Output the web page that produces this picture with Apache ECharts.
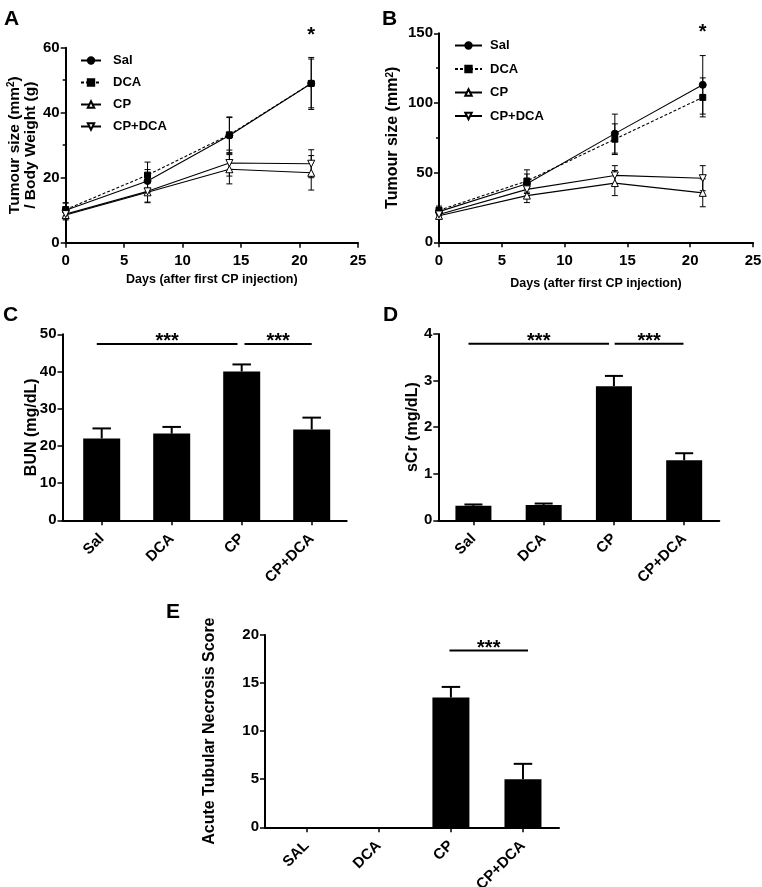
<!DOCTYPE html>
<html><head><meta charset="utf-8">
<script src="https://cdn.jsdelivr.net/npm/echarts/dist/echarts.min.js"></script>
<style>html,body{margin:0;padding:0;background:#fff}#c{width:762px;height:887px}</style>
</head><body><div id="c"></div>
<script>
// ---------- data ----------
const days = [0, 7, 14, 21];
const groups = ['Sal', 'DCA', 'CP', 'CP+DCA'];
// Panel A: tumour size / body weight
const aSal = [10, 19, 33, 49],      aSalErr = [2.3, 3.5, 5.5, 7.5];
const aDca = [10.2, 20.8, 33.2, 49], aDcaErr = [2, 4, 5.5, 8];
const aCp = [8.5, 15.5, 22.6, 21.5], aCpErr = [1.5, 3, 4.5, 5.3];
const aCpDca = [8.8, 15.8, 24.5, 24.3], aCpDcaErr = [1.5, 3.5, 4, 4.3];
// Panel B: tumour size
const bSal = [22, 42, 78, 113],     bSalErr = [3, 7, 14, 21];
const bDca = [23, 44, 74, 104],     bDcaErr = [3, 8, 11, 14];
const bCp = [19, 33.5, 42.5, 35.5], bCpErr = [2.5, 5, 9, 10];
const bCpDca = [20, 38, 48, 46],    bCpDcaErr = [2.5, 5, 7, 9];
// Panels C, D, E
const barCats = ['Sal', 'DCA', 'CP', 'CP+DCA'];
const eCats = ['SAL', 'DCA', 'CP', 'CP+DCA'];
const bun = [22, 23.3, 40, 24.4],   bunErr = [2.7, 1.8, 1.9, 3.2];
const scr = [0.31, 0.33, 2.88, 1.29], scrErr = [0.03, 0.03, 0.22, 0.15];
const atn = [0, 0, 13.5, 5.0],      atnErr = [0, 0, 1.1, 1.6];
// significance bars [from, to, level]
const sigC = [[-0.07, 1.94, 47.4], [2.04, 3.0, 47.4]];
const sigD = [[-0.07, 1.93, 3.79], [2.01, 2.99, 3.79]];
const sigE = [[1.98, 3.07, 18.4]];
const starA = [[21, 63.9]];
const starB = [[21, 150.5]];

// ---------- helpers ----------
const FONT = 'Liberation Sans';
const txt = (s) => ({ color: '#000', fontFamily: FONT, fontWeight: 'bold', fontSize: s });

function errRender(capHalf, upperOnly, lw) {
  return function (params, api) {
    const x = api.value(0), y = api.value(1), e = api.value(2);
    if (!e) return;
    const t = api.coord([x, y + e]);
    const b = api.coord([x, upperOnly ? y : y - e]);
    const st = { stroke: '#000', lineWidth: lw };
    const ch = [
      { type: 'line', shape: { x1: t[0], y1: t[1], x2: b[0], y2: b[1] }, style: st },
      { type: 'line', shape: { x1: t[0] - capHalf, y1: t[1], x2: t[0] + capHalf, y2: t[1] }, style: st }
    ];
    if (!upperOnly) ch.push({ type: 'line', shape: { x1: b[0] - capHalf, y1: b[1], x2: b[0] + capHalf, y2: b[1] }, style: st });
    return { type: 'group', children: ch };
  };
}
function sigRender(params, api) {
  const p1 = api.coord([api.value(0), api.value(2)]);
  const p2 = api.coord([api.value(1), api.value(2)]);
  return { type: 'group', children: [
    { type: 'line', shape: { x1: p1[0], y1: p1[1], x2: p2[0], y2: p2[1] }, style: { stroke: '#000', lineWidth: 2 } },
    { type: 'text', x: (p1[0] + p2[0]) / 2, y: p1[1] + 8, style: { text: '***', fill: '#000', font: 'bold 20px ' + FONT, align: 'center', verticalAlign: 'bottom' } }
  ] };
}
function starRender(params, api) {
  const p = api.coord([api.value(0), api.value(1)]);
  return { type: 'text', x: p[0], y: p[1], style: { text: '*', fill: '#000', font: 'bold 20px ' + FONT, align: 'center', verticalAlign: 'middle' } };
}
const zip = (xs, ys) => xs.map((x, i) => [x, ys[i]]);
const zip3 = (xs, ys, es) => xs.map((x, i) => [x, ys[i], es[i]]);

const axisLine = { show: true, onZero: false, lineStyle: { color: '#000', width: 2 } };
const axisTick = { show: true, length: 5, lineStyle: { color: '#000', width: 1.5 } };

const styles = {
  'Sal':    { symbol: 'circle', rot: 0, fill: '#000', dash: 'solid' },
  'DCA':    { symbol: 'rect', rot: 0, fill: '#000', dash: [3, 2] },
  'CP':     { symbol: 'triangle', rot: 0, fill: '#fff', dash: 'solid' },
  'CP+DCA': { symbol: 'triangle', rot: 180, fill: '#fff', dash: 'solid' }
};

const series = [];
function addLinePanel(idx, vals, errs) {
  groups.forEach((g, k) => {
    series.push({
      type: 'custom', xAxisIndex: idx, yAxisIndex: idx, renderItem: errRender(3, false, 1),
      data: zip3(days, vals[k], errs[k]), z: 2, silent: true
    });
  });
  groups.forEach((g, k) => {
    const s = styles[g];
    series.push({
      type: 'line', name: g, xAxisIndex: idx, yAxisIndex: idx, data: zip(days, vals[k]),
      symbol: s.symbol, symbolRotate: s.rot, symbolSize: s.symbol === 'rect' ? 6 : 7,
      lineStyle: { color: '#000', width: 1.1, type: s.dash },
      itemStyle: { color: s.fill, borderColor: '#000', borderWidth: 1 },
      z: 3, silent: true, animation: false
    });
  });
}
addLinePanel(0, [aSal, aDca, aCp, aCpDca], [aSalErr, aDcaErr, aCpErr, aCpDcaErr]);
addLinePanel(1, [bSal, bDca, bCp, bCpDca], [bSalErr, bDcaErr, bCpErr, bCpDcaErr]);
series.push({ type: 'custom', xAxisIndex: 0, yAxisIndex: 0, renderItem: starRender, data: starA, silent: true });
series.push({ type: 'custom', xAxisIndex: 1, yAxisIndex: 1, renderItem: starRender, data: starB, silent: true });

const pos = [0, 1, 2, 3];
function addBarPanel(idx, vals, errs, sig, bw) {
  series.push({ type: 'bar', xAxisIndex: idx, yAxisIndex: idx, data: zip(pos, vals), barWidth: bw,
    itemStyle: { color: '#000' }, silent: true, animation: false });
  series.push({ type: 'custom', xAxisIndex: idx, yAxisIndex: idx, renderItem: errRender(bw / 4, true, 2),
    data: zip3(pos, vals, errs), z: 1, silent: true });
  series.push({ type: 'custom', xAxisIndex: idx, yAxisIndex: idx, renderItem: sigRender, data: sig, silent: true });
}
addBarPanel(2, bun, bunErr, sigC, 37);
addBarPanel(3, scr, scrErr, sigD, 36);
addBarPanel(4, atn, atnErr, sigE, 37);

function lineX(nameGap) {
  return { type: 'value', min: 0, max: 25, interval: 5, axisLine, axisTick, splitLine: { show: false },
    axisLabel: Object.assign(txt(15), { margin: 11 }),
    name: 'Days (after first CP injection)', nameLocation: 'middle', nameGap, nameMoveOverlap: false, nameTextStyle: txt(12.5) };
}
function barX(min, cats) {
  return { type: 'value', min, max: 3.5, axisLine, splitLine: { show: false },
    axisTick: Object.assign({ customValues: pos }, axisTick),
    axisLabel: Object.assign(txt(15), { customValues: pos, rotate: 45, margin: 16, formatter: (v) => cats[Math.round(v)] }) };
}
const supRich = { sup: { fontSize: 10, fontWeight: 'bold', fontFamily: FONT, color: '#000', verticalAlign: 'top', lineHeight: 10 } };
function yAx(max, interval, name, nameGap, minor, nameSize, lh) {
  return { type: 'value', min: 0, max, interval, axisLine, axisTick, splitLine: { show: false },
    minorTick: { show: !!minor, splitNumber: 2, length: 3, lineStyle: { color: '#000', width: 1.5 } },
    minorSplitLine: { show: false },
    axisLabel: Object.assign(txt(15), { margin: 6 }),
    name, nameLocation: 'middle', nameGap, nameMoveOverlap: false,
    nameTextStyle: Object.assign(txt(nameSize || 16), { lineHeight: lh || 16, rich: supRich }) };
}

const legendA = { orient: 'vertical', data: groups, itemWidth: 20, itemHeight: 8, selectedMode: false,
  left: 75, top: 49, itemGap: 9, textStyle: Object.assign(txt(13), { padding: [0, 0, 0, 7] }) };
const legendB = { orient: 'vertical', data: groups, itemWidth: 27, itemHeight: 8, selectedMode: false,
  left: 449, top: 34, itemGap: 10.5, textStyle: Object.assign(txt(13), { padding: [0, 0, 0, 3] }) };

const gridBase = { outerBoundsMode: 'none', containLabel: false };
const option = {
  animation: false,
  grid: [
    Object.assign({ left: 65.7, top: 47.7, width: 292.3, height: 195 }, gridBase),
    Object.assign({ left: 439, top: 33.3, width: 314, height: 209 }, gridBase),
    Object.assign({ left: 62.5, top: 334.3, width: 284.2, height: 186 }, gridBase),
    Object.assign({ left: 438.3, top: 334, width: 281, height: 186.3 }, gridBase),
    Object.assign({ left: 265, top: 635, width: 294, height: 192.3 }, gridBase)
  ],
  xAxis: [
    Object.assign(lineX(30), { gridIndex: 0 }),
    Object.assign(lineX(35), { gridIndex: 1 }),
    Object.assign(barX(-0.56, barCats), { gridIndex: 2 }),
    Object.assign(barX(-0.5, barCats), { gridIndex: 3 }),
    Object.assign(barX(-0.58, eCats), { gridIndex: 4 })
  ],
  yAxis: [
    Object.assign(yAx(60, 20, 'Tumour size (mm{sup|2})\n/ Body Weight (g)', 27, true, 15.5, 16), { gridIndex: 0 }),
    Object.assign(yAx(150, 50, 'Tumour size (mm{sup|2})', 38, true), { gridIndex: 1 }),
    Object.assign(yAx(50, 10, 'BUN (mg/dL)', 23), { gridIndex: 2 }),
    Object.assign(yAx(4, 1, 'sCr (mg/dL)', 17.5), { gridIndex: 3 }),
    Object.assign(yAx(20, 5, 'Acute Tubular Necrosis Score', 47), { gridIndex: 4 })
  ],
  legend: [legendA, legendB],
  graphic: [
    { type: 'text', left: 4, top: 9, style: { text: 'A', font: 'bold 21px ' + FONT, fill: '#000' } },
    { type: 'text', left: 382, top: 9, style: { text: 'B', font: 'bold 21px ' + FONT, fill: '#000' } },
    { type: 'text', left: 3, top: 305, style: { text: 'C', font: 'bold 21px ' + FONT, fill: '#000' } },
    { type: 'text', left: 383, top: 305, style: { text: 'D', font: 'bold 21px ' + FONT, fill: '#000' } },
    { type: 'text', left: 166, top: 602, style: { text: 'E', font: 'bold 21px ' + FONT, fill: '#000' } }
  ],
  series
};
echarts.init(document.getElementById('c'), null, { renderer: 'canvas' }).setOption(option);
</script></body></html>
